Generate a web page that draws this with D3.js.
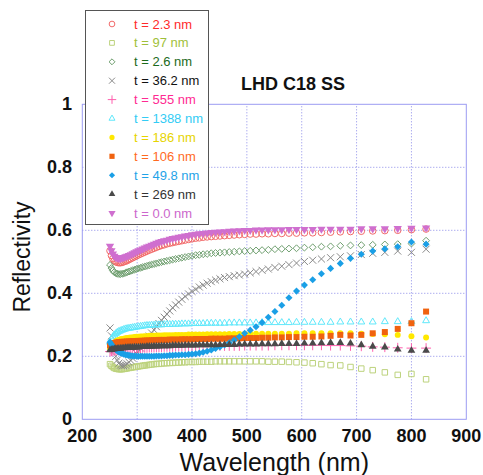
<!DOCTYPE html>
<html lang="en">
<head>
<meta charset="UTF-8"/>
<title>LHD C18 SS - Reflectivity</title>
<script src="https://d3js.org/d3.v7.min.js"></script>
<style>
  body { margin: 0; background: #fff; }
  text { font-family: "Liberation Sans", Arial, sans-serif; }
</style>
</head>
<body>
<div id="chart"></div>
<script>
// wavelength (nm) of each measured point
var wavelength = [
    250.5, 253.1, 255.7, 258.3, 261.1, 263.8, 266.7, 269.6, 272.5, 275.6,
    278.7, 281.8, 285.1, 288.4, 291.8, 295.2, 298.8, 302.4, 306.2, 310.0,
    313.9, 317.9, 322.1, 326.3, 330.7, 335.1, 339.7, 344.4, 349.3, 354.3,
    359.4, 364.7, 370.1, 375.8, 381.5, 387.5, 393.7, 400.0, 406.6, 413.3,
    420.3, 427.6, 435.1, 442.9, 450.9, 459.3, 467.9, 476.9, 486.3, 496.0,
    506.1, 516.7, 527.7, 539.1, 551.1, 563.6, 576.7, 590.5, 604.9, 620.0,
    635.9, 652.6, 670.3, 688.9, 708.6, 729.4, 751.5, 775.0, 800.0, 826.7];

// reflectivity for each film thickness
var r_2_3 = [
    0.535,0.520,0.510,0.503,0.500,0.498,0.497,0.497,0.498,0.500,
    0.502,0.504,0.507,0.510,0.513,0.516,0.519,0.522,0.525,0.528,
    0.531,0.534,0.537,0.540,0.543,0.546,0.549,0.552,0.554,0.557,
    0.559,0.561,0.563,0.565,0.567,0.569,0.571,0.573,0.575,0.576,
    0.578,0.579,0.580,0.581,0.582,0.583,0.584,0.585,0.586,0.587,
    0.588,0.588,0.589,0.589,0.590,0.590,0.591,0.591,0.592,0.592,
    0.593,0.594,0.595,0.596,0.597,0.598,0.599,0.600,0.602,0.604];
var r_97 = [
    0.175,0.170,0.166,0.163,0.161,0.160,0.159,0.159,0.159,0.160,
    0.161,0.162,0.163,0.164,0.165,0.166,0.167,0.168,0.169,0.170,
    0.171,0.172,0.173,0.174,0.175,0.176,0.176,0.177,0.178,0.178,
    0.179,0.179,0.180,0.180,0.181,0.181,0.182,0.182,0.182,0.183,
    0.183,0.183,0.183,0.184,0.184,0.184,0.184,0.184,0.184,0.184,
    0.184,0.184,0.184,0.183,0.183,0.183,0.182,0.181,0.180,0.178,
    0.175,0.172,0.171,0.166,0.161,0.156,0.149,0.141,0.144,0.127];
var r_2_6 = [
    0.490,0.480,0.472,0.467,0.464,0.462,0.461,0.461,0.462,0.463,
    0.465,0.467,0.469,0.471,0.473,0.475,0.477,0.479,0.481,0.483,
    0.485,0.487,0.489,0.491,0.493,0.495,0.497,0.499,0.501,0.503,
    0.505,0.507,0.509,0.511,0.513,0.515,0.517,0.519,0.521,0.522,
    0.524,0.525,0.527,0.528,0.529,0.530,0.531,0.532,0.533,0.534,
    0.535,0.536,0.537,0.538,0.540,0.541,0.542,0.543,0.545,0.546,
    0.548,0.549,0.551,0.552,0.553,0.554,0.555,0.556,0.558,0.567];
var r_36_2 = [
    0.290,0.265,0.240,0.220,0.200,0.188,0.178,0.172,0.170,0.170,
    0.172,0.176,0.181,0.187,0.194,0.201,0.209,0.217,0.226,0.235,
    0.244,0.254,0.264,0.274,0.284,0.294,0.304,0.314,0.324,0.334,
    0.344,0.354,0.363,0.372,0.381,0.390,0.398,0.406,0.413,0.420,
    0.426,0.432,0.437,0.442,0.446,0.450,0.453,0.456,0.458,0.461,
    0.465,0.469,0.473,0.477,0.482,0.486,0.491,0.496,0.501,0.505,
    0.509,0.513,0.516,0.519,0.523,0.527,0.530,0.534,0.530,0.540];
var r_555 = [
    0.215,0.216,0.217,0.218,0.219,0.220,0.220,0.221,0.221,0.222,
    0.222,0.223,0.223,0.224,0.224,0.225,0.225,0.226,0.226,0.227,
    0.227,0.227,0.228,0.228,0.228,0.229,0.229,0.229,0.230,0.230,
    0.230,0.230,0.231,0.231,0.231,0.231,0.232,0.232,0.232,0.232,
    0.232,0.233,0.233,0.233,0.233,0.233,0.233,0.233,0.233,0.234,
    0.234,0.234,0.234,0.234,0.235,0.235,0.235,0.235,0.235,0.235,
    0.235,0.234,0.234,0.233,0.232,0.230,0.229,0.227,0.226,0.226];
var r_1388 = [
    0.245,0.255,0.262,0.268,0.272,0.276,0.279,0.281,0.283,0.285,
    0.287,0.288,0.289,0.290,0.291,0.292,0.293,0.294,0.295,0.296,
    0.297,0.298,0.298,0.299,0.299,0.300,0.300,0.300,0.301,0.301,
    0.301,0.302,0.302,0.302,0.303,0.303,0.303,0.304,0.304,0.304,
    0.304,0.305,0.305,0.305,0.305,0.305,0.306,0.306,0.306,0.306,
    0.306,0.306,0.307,0.307,0.307,0.307,0.307,0.308,0.308,0.308,
    0.308,0.308,0.309,0.309,0.309,0.309,0.310,0.310,0.310,0.313];
var r_186 = [
    0.225,0.232,0.238,0.243,0.247,0.250,0.252,0.254,0.255,0.256,
    0.257,0.258,0.259,0.260,0.260,0.261,0.262,0.262,0.263,0.263,
    0.264,0.264,0.265,0.265,0.265,0.266,0.266,0.266,0.267,0.267,
    0.267,0.267,0.268,0.268,0.268,0.268,0.269,0.269,0.269,0.269,
    0.269,0.270,0.270,0.270,0.270,0.270,0.271,0.271,0.271,0.271,
    0.272,0.272,0.272,0.272,0.272,0.272,0.272,0.273,0.273,0.273,
    0.273,0.273,0.273,0.273,0.272,0.271,0.270,0.268,0.264,0.260];
var r_106 = [
    0.235,0.238,0.240,0.242,0.243,0.244,0.245,0.245,0.246,0.246,
    0.246,0.247,0.247,0.247,0.248,0.248,0.248,0.249,0.249,0.249,
    0.250,0.250,0.250,0.251,0.251,0.251,0.252,0.252,0.252,0.252,
    0.253,0.253,0.253,0.253,0.254,0.254,0.254,0.254,0.255,0.255,
    0.255,0.255,0.256,0.256,0.256,0.256,0.257,0.257,0.257,0.258,
    0.258,0.258,0.259,0.259,0.260,0.260,0.261,0.261,0.262,0.262,
    0.263,0.265,0.268,0.266,0.268,0.273,0.277,0.287,0.305,0.342];
var r_49_8 = [
    0.245,0.238,0.232,0.226,0.221,0.217,0.214,0.211,0.209,0.207,
    0.205,0.204,0.203,0.202,0.201,0.201,0.200,0.200,0.200,0.200,
    0.200,0.200,0.200,0.200,0.200,0.201,0.201,0.201,0.202,0.202,
    0.203,0.203,0.204,0.204,0.205,0.205,0.206,0.207,0.208,0.210,
    0.213,0.216,0.220,0.225,0.230,0.236,0.243,0.252,0.262,0.273,
    0.283,0.294,0.307,0.324,0.342,0.362,0.386,0.407,0.426,0.443,
    0.462,0.479,0.495,0.511,0.524,0.534,0.541,0.548,0.563,0.556];
var r_269 = [
    0.220,0.221,0.222,0.223,0.224,0.224,0.225,0.225,0.226,0.226,
    0.227,0.227,0.228,0.228,0.228,0.229,0.229,0.229,0.230,0.230,
    0.230,0.231,0.231,0.231,0.232,0.232,0.232,0.233,0.233,0.233,
    0.233,0.234,0.234,0.234,0.234,0.235,0.235,0.235,0.235,0.236,
    0.236,0.236,0.236,0.236,0.237,0.237,0.237,0.237,0.238,0.238,
    0.238,0.238,0.239,0.239,0.239,0.240,0.240,0.240,0.241,0.241,
    0.242,0.243,0.243,0.241,0.236,0.231,0.229,0.222,0.218,0.218];
var r_0_0 = [
    0.550,0.535,0.525,0.518,0.514,0.512,0.511,0.511,0.512,0.514,
    0.516,0.518,0.520,0.523,0.526,0.529,0.532,0.535,0.538,0.541,
    0.544,0.547,0.550,0.553,0.556,0.559,0.562,0.565,0.567,0.569,
    0.572,0.574,0.576,0.578,0.580,0.582,0.584,0.586,0.588,0.589,
    0.590,0.592,0.593,0.594,0.595,0.596,0.597,0.598,0.599,0.600,
    0.600,0.601,0.601,0.602,0.602,0.602,0.603,0.603,0.603,0.603,
    0.604,0.604,0.604,0.604,0.605,0.605,0.605,0.606,0.607,0.608];

var legendLabels = ["t = 2.3 nm", "t = 97 nm", "t = 2.6 nm", "t = 36.2 nm",
    "t = 555 nm", "t = 1388 nm", "t = 186 nm", "t = 106 nm",
    "t = 49.8 nm", "t = 269 nm", "t = 0.0 nm"];
var xTicks = [200, 300, 400, 500, 600, 700, 800, 900];
var yTicks = [0, 0.2, 0.4, 0.6, 0.8, 1];

// marker style for each series, same order as the legend
var series = [
    { values: r_2_3,  shape: d3.symbolCircle,   size: 34, fill: "none",    stroke: "#f26a6a", text: "#ff2a2a" },
    { values: r_97,   shape: d3.symbolSquare,   size: 30, fill: "none",    stroke: "#bcd27c", text: "#9fbf3a" },
    { values: r_2_6,  shape: d3.symbolDiamond2, size: 30, fill: "none",    stroke: "#6f9f6f", text: "#1b6a1b" },
    { values: r_36_2, shape: d3.symbolTimes,    size: 34, fill: "none",    stroke: "#8a8a8a", text: "#111111" },
    { values: r_555,  shape: d3.symbolPlus,     size: 34, fill: "none",    stroke: "#ff5fae", text: "#ff2a92" },
    { values: r_1388, shape: d3.symbolTriangle2,size: 34, fill: "none",    stroke: "#5fe8fb", text: "#33ccf5" },
    { values: r_186,  shape: d3.symbolCircle,   size: 28, fill: "#ffe800", stroke: "none", text: "#e6d400" },
    { values: r_106,  shape: d3.symbolSquare,   size: 36, fill: "#f0620f", stroke: "none", text: "#ff6a1f" },
    { values: r_49_8, shape: d3.symbolDiamond2, size: 32, fill: "#1a9fe6", stroke: "none", text: "#1fa3e8" },
    { values: r_269,  shape: d3.symbolTriangle, size: 26, fill: "#4a4a4a", stroke: "none", text: "#333333" },
    { values: r_0_0,  shape: d3.symbolTriangle, size: 30, fill: "#cf6fcf", stroke: "none", text: "#cc66cc", flip: true }
];

var width = 483;
var height = 475;

var svg = d3.select("#chart")
    .append("svg")
    .attr("width", width)
    .attr("height", height);

var xScale = d3.scaleLinear().domain([200, 900]).range([82.3, 466.3]);
var yScale = d3.scaleLinear().domain([0, 1]).range([419.3, 104.3]);

// dotted grid
svg.selectAll("line.vgrid")
    .data(xTicks.slice(1, -1))
    .enter()
    .append("line")
    .attr("x1", function(d) { return xScale(d); })
    .attr("x2", function(d) { return xScale(d); })
    .attr("y1", yScale(0))
    .attr("y2", yScale(1))
    .attr("stroke", "#8a8ae8")
    .attr("stroke-dasharray", "1,2");

svg.selectAll("line.hgrid")
    .data(yTicks.slice(1, -1))
    .enter()
    .append("line")
    .attr("x1", xScale(200))
    .attr("x2", xScale(900))
    .attr("y1", function(d) { return yScale(d); })
    .attr("y2", function(d) { return yScale(d); })
    .attr("stroke", "#8a8ae8")
    .attr("stroke-dasharray", "1,2");

// plot frame
svg.append("rect")
    .attr("x", xScale(200))
    .attr("y", yScale(1))
    .attr("width", xScale(900) - xScale(200))
    .attr("height", yScale(0) - yScale(1))
    .attr("fill", "none")
    .attr("stroke", "#9c9cf2");

// tick labels
svg.selectAll("text.xtick")
    .data(xTicks)
    .enter()
    .append("text")
    .attr("x", function(d) { return xScale(d); })
    .attr("y", 441.5)
    .attr("text-anchor", "middle")
    .attr("font-size", "18px")
    .attr("font-weight", "bold")
    .attr("fill", "#111")
    .text(function(d) { return d; });

svg.selectAll("text.ytick")
    .data(yTicks)
    .enter()
    .append("text")
    .attr("x", 72)
    .attr("y", function(d) { return yScale(d) + 6; })
    .attr("text-anchor", "end")
    .attr("font-size", "18px")
    .attr("font-weight", "bold")
    .attr("fill", "#111")
    .text(function(d) { return d; });

// axis titles
svg.append("text")
    .attr("x", (xScale(200) + xScale(900)) / 2)
    .attr("y", 471)
    .attr("text-anchor", "middle")
    .attr("font-size", "25px")
    .attr("fill", "#111")
    .text("Wavelength (nm)");

svg.append("text")
    .attr("text-anchor", "middle")
    .attr("transform", "translate(30,257)rotate(-90)")
    .attr("font-size", "23px")
    .attr("fill", "#111")
    .text("Reflectivity");

svg.append("text")
    .attr("x", 293)
    .attr("y", 90)
    .attr("text-anchor", "middle")
    .attr("font-size", "18px")
    .attr("font-weight", "bold")
    .attr("fill", "#111")
    .text("LHD C18 SS");

// data points
series.forEach(function(s) {
    var sym = d3.symbol().type(s.shape).size(s.size);
    svg.append("g")
        .selectAll("path")
        .data(s.values)
        .enter()
        .append("path")
        .attr("d", sym)
        .attr("transform", function(d, i) {
            return "translate(" + xScale(wavelength[i]) + "," + yScale(d) + ")" + (s.flip ? "rotate(180)" : "");
        })
        .attr("fill", s.fill)
        .attr("stroke", s.stroke)
        .attr("stroke-width", 1);
});

// legend
var legend = svg.append("g");
legend.append("rect")
    .attr("x", 85.5)
    .attr("y", 10.5)
    .attr("width", 123)
    .attr("height", 214)
    .attr("fill", "#fff")
    .attr("stroke", "#555");

var rows = legend.selectAll("g.row")
    .data(series)
    .enter()
    .append("g")
    .attr("transform", function(d, i) { return "translate(0," + (24 + i * 18.9) + ")"; });

rows.append("path")
    .attr("d", function(s) { return d3.symbol().type(s.shape).size(s.size * 0.75)(); })
    .attr("transform", function(s) { return "translate(112,0)" + (s.flip ? "rotate(180)" : ""); })
    .attr("fill", function(s) { return s.fill; })
    .attr("stroke", function(s) { return s.stroke; });

rows.append("text")
    .attr("x", 134)
    .attr("y", 4.5)
    .attr("font-size", "13px")
    .attr("fill", function(s) { return s.text; })
    .text(function(s, i) { return legendLabels[i]; });
</script>
</body>
</html>
